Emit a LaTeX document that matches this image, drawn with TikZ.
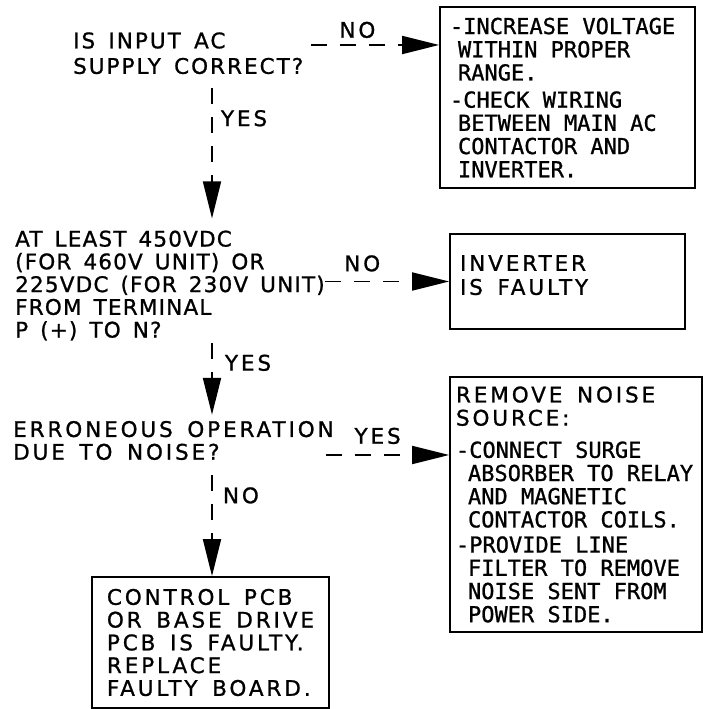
\documentclass[tikz,border=0pt]{standalone}
\usepackage{fontspec}
\usetikzlibrary{arrows.meta,calc}
\newfontfamily\plotq[LetterSpace=9.4, WordSpace=1.5, FakeBold=1]{DejaVu Sans}
\newfontfamily\plotp[LetterSpace=5.6, WordSpace=1.5, FakeBold=1]{DejaVu Sans}
\newfontfamily\plotw[LetterSpace=13.5, WordSpace=1.5, FakeBold=1]{DejaVu Sans}
\newfontfamily\plotn[FakeBold=1]{DejaVu Sans Mono}
\newcommand{\wsize}{\fontsize{21.5}{22.75}\selectfont}
\newcommand{\nsize}{\fontsize{22}{23.2}\selectfont}

\begin{document}
\begin{tikzpicture}[x=1pt, y=1pt,
  q/.style={anchor=west, inner sep=0pt, align=left},
  b/.style={draw, line width=1.8pt, align=left, inner ysep=0pt},
  lab/.style={inner sep=0pt, font=\plotw\wsize},
  flow/.style={line width=1.9pt, dash pattern=on 16pt off 13pt, -{Triangle[length=37pt, width=18pt]}}]
  \useasboundingbox (0,0) rectangle (703,709);
  \coordinate (spine) at (212,0);
  % questions
  \node[q, font=\plotq\fontsize{21.5}{25.5}\selectfont] (q1) at (73,655.75) {IS INPUT AC\\SUPPLY CORRECT?};
  \node[q, font=\plotp\wsize] (q2) at (15,423.5) {AT LEAST 450VDC\\(FOR 460V UNIT) OR\\225VDC (FOR 230V UNIT)\\FROM TERMINAL\\P (+) TO N?};
  \node[q, font=\plotw\wsize] (q3) at (13,268.5) {ERRONEOUS OPERATION\\DUE TO NOISE?};
  % remedies
  \node[b, font=\plotn\nsize, inner xsep=10pt, minimum height=181pt] (fix1) at (567.5,611.5)
    {\makebox[235pt][l]{-INCREASE VOLTAGE}\\\hspace*{8pt}WITHIN PROPER\\\hspace*{8pt}RANGE.\\[4pt]-CHECK WIRING\\\hspace*{8pt}BETWEEN MAIN AC\\\hspace*{8pt}CONTACTOR AND\\\hspace*{8pt}INVERTER.};
  \node[b, font=\plotw\fontsize{21.5}{24}\selectfont, inner xsep=10pt, minimum height=95pt, text depth=13pt] (fix2) at (567.5,427.5)
    {INVERTER\\\makebox[215pt][l]{IS FAULTY}};
  \node[b, font=\plotn\nsize, inner xsep=6pt, minimum height=255pt] (fix3) at (576,204.5)
    {\makebox[240pt][l]{\plotw\wsize REMOVE NOISE}\\{\plotw\wsize SOURCE:}\\[9pt]-CONNECT SURGE\\\hspace*{12pt}ABSORBER TO RELAY\\\hspace*{12pt}AND MAGNETIC\\\hspace*{12pt}CONTACTOR COILS.\\[2pt]-PROVIDE LINE\\\hspace*{12pt}FILTER TO REMOVE\\\hspace*{12pt}NOISE SENT FROM\\\hspace*{12pt}POWER SIDE.};
  \node[b, font=\plotw\wsize, minimum width=237pt, minimum height=131pt, inner xsep=0pt] (fix4) at (210.5,66.5)
    {CONTROL PCB\\OR BASE DRIVE\\PCB IS FAULTY.\\REPLACE\\FAULTY BOARD.};
  % flow
  \coordinate (no1) at ($(q1.east)+(8,8.25)$);
  \draw[flow] (no1) -- node[lab, above=6pt, pos=0.36] {NO} (no1 -| fix1.west);
  \draw[flow] ($(q1.south -| spine)+(0,-14)$) -- node[lab, right=8pt, pos=0.23] {YES} ($(q2.north -| spine)+(0,12)$);
  \draw[flow] (q2.east |- fix2.west) -- node[lab, above=9pt, pos=0.3] {NO} (fix2.west);
  \draw[flow] ($(q2.south -| spine)+(0,-2)$) -- node[lab, right=12pt, pos=0.28] {YES} ($(q3.north -| spine)+(0,6)$);
  \coordinate (yes3) at ($(q3.east)+(-8,-14.5)$);
  \draw[flow] (yes3) -- node[lab, above=10pt, pos=0.42] {YES} (yes3 -| fix3.west);
  \draw[flow] ($(q3.south -| spine)+(0,-15)$) -- node[lab, right=10pt, pos=0.2] {NO} (fix4.north -| spine);
\end{tikzpicture}
\end{document}
